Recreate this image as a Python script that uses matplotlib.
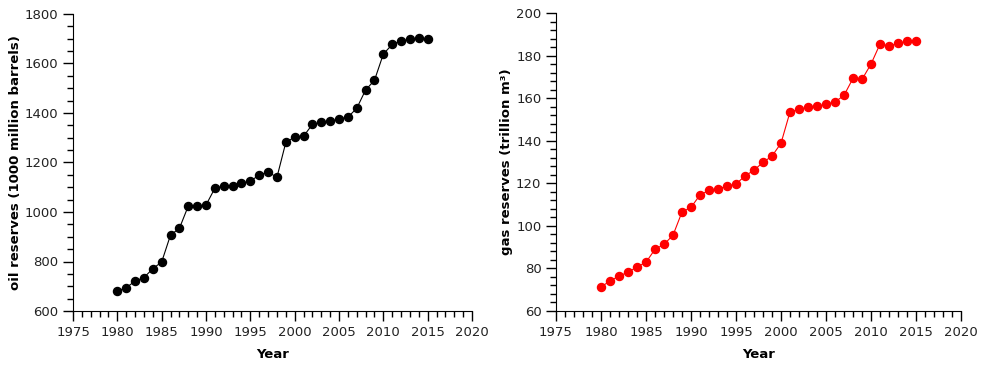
import matplotlib
matplotlib.use("Agg")
import matplotlib.pyplot as plt
from matplotlib.ticker import MultipleLocator

years = list(range(1980, 2016))
oil = [681, 694, 721, 735, 771, 798, 907, 934, 1024, 1024, 1028, 1096, 1105, 1105,
       1116, 1125, 1149, 1162, 1140, 1281, 1303, 1306, 1354, 1362, 1366, 1376, 1383,
       1419, 1493, 1532, 1638, 1677, 1691, 1698, 1702, 1698]
gas = [71.3, 74.1, 76.4, 78.2, 80.7, 82.9, 89.0, 91.3, 95.6, 106.5, 108.7, 114.5,
       116.7, 117.4, 118.6, 119.7, 123.4, 126.2, 129.8, 132.8, 138.8, 153.5, 154.7,
       155.7, 156.1, 157.1, 158.2, 161.3, 169.3, 168.8, 176.0, 185.4, 184.5, 185.7,
       186.7, 186.7]

plt.rcParams['font.family'] = ['DejaVu Sans']
fig = plt.figure(figsize=(9.85, 3.73), dpi=100)
ax1 = fig.add_axes([73/985, 62/373, 399/985, 297/373])
ax2 = fig.add_axes([556/985, 62/373, 405/985, 298/373])

def style(ax, ymin, ymax, ymaj, ymin_step):
    ax.set_xlim(1975, 2020)
    ax.set_ylim(ymin, ymax)
    ax.xaxis.set_major_locator(MultipleLocator(5))
    ax.xaxis.set_minor_locator(MultipleLocator(1))
    ax.yaxis.set_major_locator(MultipleLocator(ymaj))
    ax.yaxis.set_minor_locator(MultipleLocator(ymin_step))
    for s in ['top', 'right']:
        ax.spines[s].set_visible(False)
    ax.tick_params(which='major', length=7, width=1, labelsize=9.5, colors='black')
    ax.tick_params(which='minor', length=4, width=1)
    ax.tick_params(labelcolor='#222222')
    ax.set_xlabel('Year', fontweight='bold', fontsize=9.5, labelpad=7)

ax1.plot(years, oil, color='black', lw=0.8, marker='o', markersize=5.8)
style(ax1, 600, 1800, 200, 50)
ax1.set_ylabel('oil reserves (1000 million barrels)', fontweight='bold', fontsize=9.5, labelpad=2)

ax2.plot(years, gas, color='red', lw=0.8, marker='o', markersize=5.8)
style(ax2, 60, 200, 20, 4)
ax2.set_ylabel('gas reserves (trillion m³)', fontweight='bold', fontsize=9.5, labelpad=2)

fig.savefig('out.png', dpi=100)
